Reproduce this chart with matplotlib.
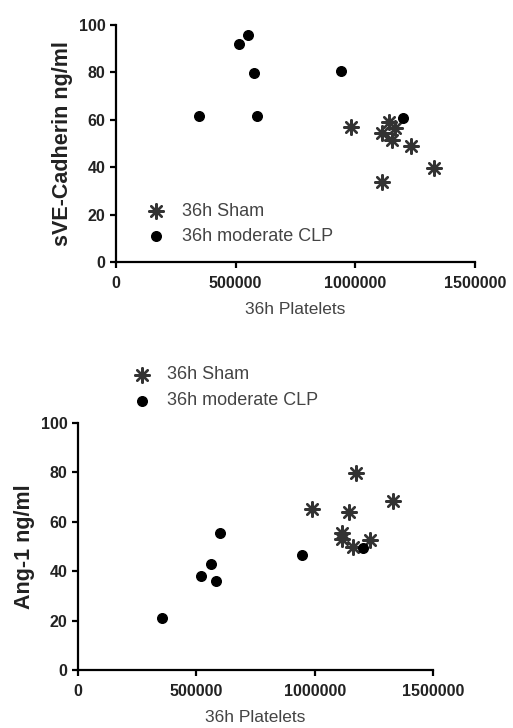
import matplotlib
matplotlib.use("Agg")
import matplotlib.pyplot as plt
import numpy as np

plt.rcParams['font.family'] = ['Liberation Sans', 'DejaVu Sans']

# top panel: sVE-Cadherin vs platelets
sham_plt_top = [982000, 1111000, 1139000, 1167000, 1155000, 1232000, 1329000, 1111000]
sham_sve = [57.1, 54.3, 59.2, 56.4, 51.5, 48.9, 39.8, 33.9]
clp_plt_top = [346000, 514000, 553000, 575000, 590000, 940000, 1200000]
clp_sve = [61.6, 91.8, 95.6, 79.6, 61.6, 80.7, 60.9]

# bottom panel: Ang-1 vs platelets
sham_plt_bot = [988000, 1175000, 1144000, 1333000, 1114000, 1114000, 1161000, 1234000]
sham_ang = [65.1, 79.6, 64.1, 68.5, 55.4, 53.0, 50.0, 52.7]
clp_plt_bot = [356000, 521000, 561000, 582000, 599000, 948000, 1203000]
clp_ang = [21.1, 38.2, 43.0, 36.2, 55.6, 46.6, 49.3]

x_ticks = [0, 500000, 1000000, 1500000]
y_ticks = [0, 20, 40, 60, 80, 100]

star = (8, 2, 0)


def style_axes(ax, ylabel):
    ax.set_xlim(0, 1500000)
    ax.set_ylim(0, 100)
    ax.set_xticks(x_ticks)
    ax.set_xticklabels([str(t) for t in x_ticks])
    ax.set_yticks(y_ticks)
    for s in ['top', 'right']:
        ax.spines[s].set_visible(False)
    for s in ['left', 'bottom']:
        ax.spines[s].set_linewidth(1.6)
    ax.tick_params(direction='out', length=4, width=1.6, labelsize=11.5)
    ax.tick_params(axis='x', pad=6)
    for lab in ax.get_xticklabels() + ax.get_yticklabels():
        lab.set_fontweight('bold')
        lab.set_color('#222222')
    ax.set_ylabel(ylabel, fontsize=15.5, fontweight='bold', color='#222222')
    ax.set_xlabel('36h Platelets', fontsize=12.5, color='#444444', labelpad=8)


def draw(ax, sx, sy, cx, cy):
    ax.scatter(sx, sy, marker=star, s=110, linewidths=1.7, color='#333333',
               label='36h Sham', clip_on=False, zorder=3)
    ax.scatter(cx, cy, marker='o', s=48, color='black',
               label='36h moderate CLP', clip_on=False, zorder=3)


fig = plt.figure(figsize=(5.13, 7.28), dpi=100)

ax1 = fig.add_axes([0.226, 0.640, 0.700, 0.326])
draw(ax1, sham_plt_top, sham_sve, clp_plt_top, clp_sve)
style_axes(ax1, 'sVE-Cadherin ng/ml')
ax1.legend(loc='center left', bbox_to_anchor=(0.061, 0.162), frameon=False,
           fontsize=13, handlelength=1, handletextpad=0.94, labelspacing=0.45,
           borderpad=0, labelcolor='#444444')

ax2 = fig.add_axes([0.152, 0.079, 0.692, 0.340])
draw(ax2, sham_plt_bot, sham_ang, clp_plt_bot, clp_ang)
style_axes(ax2, 'Ang-1 ng/ml')
ax2.legend(loc='center left', bbox_to_anchor=(0.130, 1.142), frameon=False,
           fontsize=13, handlelength=1, handletextpad=0.89, labelspacing=0.5,
           borderpad=0, labelcolor='#444444')

fig.savefig('out.png', dpi=100)
